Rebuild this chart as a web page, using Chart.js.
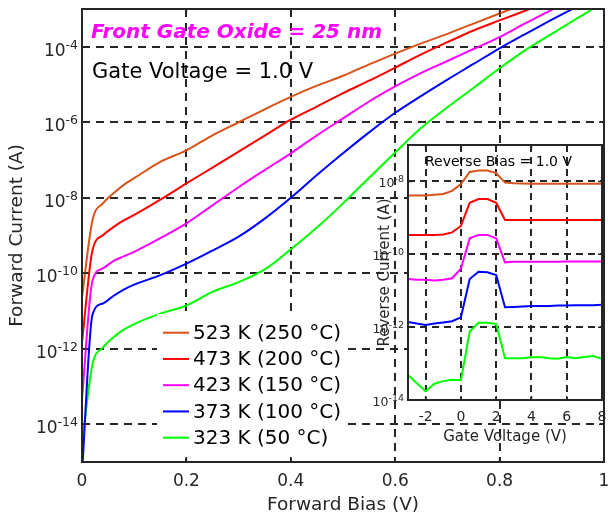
<!DOCTYPE html>
<html>
<head>
<meta charset="utf-8">
<script src="https://cdn.jsdelivr.net/npm/chart.js@4.4.1/dist/chart.umd.min.js"></script>
<style>
  html, body { margin: 0; padding: 0; background: #fff; }
  #wrap { position: relative; width: 608px; height: 516px; }
  #wrap canvas { position: absolute; left: 0; top: 0; }
</style>
</head>
<body>
<div id="wrap">
  <canvas id="main" width="608" height="516"></canvas>
  <canvas id="inset" width="608" height="516"></canvas>
</div>
<script>
// forward bias sweep (V) shared by the five main curves
var biasV = [0, 0.02, 0.04, 0.06, 0.08, 0.1, 0.15, 0.2, 0.25, 0.3, 0.35, 0.4,
             0.45, 0.5, 0.55, 0.6, 0.65, 0.7, 0.75, 0.8, 0.85, 0.9, 0.95, 1.0];

// forward current (A); curves leave the top at 1e-3
var fwd523 = [2.34e-11, 2.5e-9, 7.1e-9, 1.3e-8, 2.2e-8, 3.3e-8, 8.9e-8, 1.8e-7, 4.5e-7, 1.0e-6, 2.2e-6,
              4.7e-6, 9.3e-6, 1.7e-5, 3.4e-5, 6.6e-5, 1.23e-4, 2.2e-4, 4.1e-4, 7.6e-4, 1.4e-3];
var fwd473 = [1.5e-12, 4.0e-10, 1.02e-9, 1.66e-9, 2.5e-9, 3.5e-9, 8.9e-9, 2.4e-8, 6.3e-8, 1.66e-7, 4.4e-7,
              1.17e-6, 2.6e-6, 5.9e-6, 1.26e-5, 2.8e-5, 6.3e-5, 1.32e-4, 2.7e-4, 5.0e-4, 9.1e-4, 1.66e-3];
var fwd423 = [4.8e-14, 6.3e-11, 1.35e-10, 2.1e-10, 2.8e-10, 3.7e-10, 8.5e-10, 2.1e-9, 6.3e-9, 1.9e-8, 5.4e-8,
              1.5e-7, 4.5e-7, 1.26e-6, 3.55e-6, 8.9e-6, 2.04e-5, 4.2e-5, 8.7e-5, 1.8e-4, 4.2e-4, 9.5e-4, 2.0e-3];
var fwd373 = [5.0e-16, 7.9e-12, 1.58e-11, 2.5e-11, 3.7e-11, 5.0e-11, 8.9e-11, 1.8e-10, 4.0e-10, 9.3e-10, 2.8e-9,
              1.0e-8, 4.0e-8, 1.51e-7, 5.4e-7, 1.78e-6, 5.0e-6, 1.35e-5, 3.5e-5, 9.1e-5, 2.2e-4, 5.2e-4, 1.2e-3];
var fwd323 = [3.1e-15, 3.8e-13, 1.07e-12, 2.0e-12, 3.2e-12, 4.5e-12, 8.5e-12, 1.4e-11, 3.2e-11, 5.8e-11, 1.26e-10,
              4.3e-10, 1.62e-9, 7.1e-9, 3.4e-8, 1.58e-7, 7.1e-7, 2.5e-6, 8.1e-6, 2.7e-5, 8.3e-5, 2.2e-4, 5.8e-4, 1.5e-3];

// inset: gate voltage sweep (V) and reverse current (A)
var gateV = [-3, -2.5, -2, -1.5, -1, -0.5, 0, 0.5, 1, 1.5, 2, 2.5, 3, 3.5, 4, 4.5, 5, 5.5, 6, 6.5, 7, 7.5, 8];
var rev523 = [4.1e-9, 4.1e-9, 4.1e-9, 4.3e-9, 4.5e-9, 5.5e-9, 8.5e-9, 1.82e-8, 2.0e-8, 2.0e-8, 1.7e-8, 9.3e-9,
              8.9e-9, 8.8e-9, 8.7e-9, 8.7e-9, 8.7e-9, 8.7e-9, 8.7e-9, 8.6e-9, 8.6e-9, 8.6e-9, 8.6e-9];
var rev473 = [3.4e-10, 3.4e-10, 3.4e-10, 3.4e-10, 3.5e-10, 4.0e-10, 6.0e-10, 2.6e-9, 3.3e-9, 3.3e-9, 2.6e-9, 8.7e-10,
              8.7e-10, 8.7e-10, 8.7e-10, 8.7e-10, 8.8e-10, 8.8e-10, 8.8e-10, 8.8e-10, 8.8e-10, 8.8e-10, 8.8e-10];
var rev423 = [2.1e-11, 2.0e-11, 2.0e-11, 1.9e-11, 2.0e-11, 2.2e-11, 4.0e-11, 2.75e-10, 3.4e-10, 3.4e-10, 2.75e-10, 6.0e-11,
              6.2e-11, 6.2e-11, 6.2e-11, 6.2e-11, 6.2e-11, 6.2e-11, 6.3e-11, 6.3e-11, 6.3e-11, 6.3e-11, 6.3e-11];
var rev373 = [1.38e-12, 1.26e-12, 1.15e-12, 1.26e-12, 1.35e-12, 1.45e-12, 1.86e-12, 2.1e-11, 3.3e-11, 3.2e-11, 2.7e-11, 3.5e-12,
              3.6e-12, 3.7e-12, 3.8e-12, 3.8e-12, 3.8e-12, 3.9e-12, 3.9e-12, 4.0e-12, 4.0e-12, 4.0e-12, 4.1e-12];
var rev323 = [4.9e-14, 2.9e-14, 1.74e-14, 2.8e-14, 3.3e-14, 3.6e-14, 3.5e-14, 7.6e-13, 1.32e-12, 1.32e-12, 1.23e-12, 1.41e-13,
              1.41e-13, 1.41e-13, 1.48e-13, 1.51e-13, 1.41e-13, 1.35e-13, 1.51e-13, 1.41e-13, 1.51e-13, 1.62e-13, 1.35e-13];

var tempLabels = ['523 K (250 °C)', '473 K (200 °C)', '423 K (150 °C)', '373 K (100 °C)', '323 K (50 °C)'];
var tempColors = ['#d95319', '#ff0000', '#ff00ff', '#0000ff', '#00ff00'];

var biasTicks = [0, 0.2, 0.4, 0.6, 0.8, 1];
var fwdTicks = [1e-14, 1e-12, 1e-10, 1e-8, 1e-6, 1e-4];
var gateTicks = [-2, 0, 2, 4, 6, 8];
var revTicks = [1e-14, 1e-12, 1e-10, 1e-8];

var FONT = '"DejaVu Sans", sans-serif';
var INK = '#262626';

function series(xs, ys) {
    return ys.map(function (y, i) { return {x: xs[i], y: y}; });
}

function setTicks(list) {
    return function (scale) {
        scale.ticks = list.map(function (v) { return {value: v}; });
    };
}

// "10" with a raised exponent, right aligned at xRight
function powerLabel(ctx, exp, xRight, yGrid, baseSize, expSize, dyBase, dyExp) {
    ctx.textAlign = 'left';
    ctx.textBaseline = 'alphabetic';
    ctx.font = expSize + 'px ' + FONT;
    var we = ctx.measureText(exp).width;
    ctx.fillText(exp, xRight - we, yGrid + dyExp);
    ctx.font = baseSize + 'px ' + FONT;
    var wb = ctx.measureText('10').width;
    ctx.fillText('10', xRight - we - wb, yGrid + dyBase);
}

function boxAndTicks(chart, len) {
    var ctx = chart.ctx, a = chart.chartArea;
    var sx = chart.scales.x, sy = chart.scales.y;
    ctx.strokeStyle = INK;
    ctx.lineWidth = 1.5;
    ctx.beginPath();
    sx.ticks.forEach(function (t) {
        var px = sx.getPixelForValue(t.value);
        ctx.moveTo(px, a.bottom); ctx.lineTo(px, a.bottom - len);
        ctx.moveTo(px, a.top); ctx.lineTo(px, a.top + len);
    });
    sy.ticks.forEach(function (t) {
        var py = sy.getPixelForValue(t.value);
        ctx.moveTo(a.left, py); ctx.lineTo(a.left + len, py);
        ctx.moveTo(a.right, py); ctx.lineTo(a.right - len, py);
    });
    ctx.stroke();
    ctx.lineWidth = 2;
    ctx.strokeRect(a.left, a.top, a.right - a.left, a.bottom - a.top);
}

var mainDecor = {
    id: 'mainDecor',
    afterDraw: function (chart) {
        var ctx = chart.ctx, sy = chart.scales.y;
        ctx.save();

        // legend sits on a white patch that hides the grid
        ctx.fillStyle = '#fff';
        ctx.fillRect(157, 314, 187, 144);

        boxAndTicks(chart, 5);

        ctx.fillStyle = INK;
        sy.ticks.forEach(function (t) {
            var e = Math.round(Math.log10(t.value));
            powerLabel(ctx, String(e), 78, sy.getPixelForValue(t.value), 17, 12.5, 8.8, 2.2);
        });

        tempLabels.forEach(function (lab, i) {
            var y = 332.7 + i * 26.25;
            ctx.strokeStyle = tempColors[i];
            ctx.lineWidth = 2;
            ctx.beginPath();
            ctx.moveTo(163, y); ctx.lineTo(189, y);
            ctx.stroke();
            ctx.fillStyle = '#000';
            ctx.font = '20px ' + FONT;
            ctx.textAlign = 'left';
            ctx.textBaseline = 'middle';
            ctx.fillText(lab, 193, y + 1);
        });

        ctx.textBaseline = 'alphabetic';
        ctx.font = 'italic bold 20px ' + FONT;
        ctx.fillStyle = '#ff00ff';
        ctx.fillText('Front Gate Oxide = 25 nm', 91, 38);
        ctx.font = '21px ' + FONT;
        ctx.fillStyle = '#000';
        ctx.fillText('Gate Voltage = 1.0 V', 92, 78);
        ctx.restore();
    }
};

var insetDecor = {
    id: 'insetDecor',
    beforeDraw: function (chart) {
        var a = chart.chartArea, ctx = chart.ctx;
        ctx.save();
        ctx.fillStyle = '#fff';
        ctx.fillRect(a.left, a.top, a.right - a.left, a.bottom - a.top);
        ctx.restore();
    },
    afterDraw: function (chart) {
        var ctx = chart.ctx, sy = chart.scales.y;
        ctx.save();
        boxAndTicks(chart, 4);
        ctx.fillStyle = INK;
        sy.ticks.forEach(function (t) {
            var e = Math.round(Math.log10(t.value));
            powerLabel(ctx, String(e), 404, sy.getPixelForValue(t.value), 12.5, 9.5, 6, 1);
        });
        ctx.fillStyle = '#000';
        ctx.font = '14px ' + FONT;
        ctx.textAlign = 'left';
        ctx.textBaseline = 'alphabetic';
        ctx.fillText('Reverse Bias = 1.0 V', 425, 166);
        ctx.restore();
    }
};

function lineSets(xs, all, smooth) {
    return all.map(function (ys, i) {
        return {
            label: tempLabels[i],
            data: series(xs, ys),
            borderColor: tempColors[i],
            backgroundColor: tempColors[i],
            borderWidth: 2,
            pointRadius: 0,
            tension: smooth ? 0.4 : 0,
            cubicInterpolationMode: smooth ? 'monotone' : 'default',
            fill: false
        };
    });
}

new Chart(document.getElementById('main'), {
    type: 'line',
    data: { datasets: lineSets(biasV, [fwd523, fwd473, fwd423, fwd373, fwd323], true) },
    options: {
        responsive: false,
        animation: false,
        devicePixelRatio: 1,
        layout: { padding: { left: 0, top: 9, right: 4, bottom: 0 } },
        plugins: { legend: { display: false }, tooltip: { enabled: false } },
        scales: {
            x: {
                type: 'linear', min: 0, max: 1,
                afterBuildTicks: setTicks(biasTicks),
                afterFit: function (s) { s.height = 54; s.paddingLeft = 0; s.paddingRight = 0; },
                grid: { color: INK, lineWidth: 2, drawTicks: false },
                border: { display: false, dash: [8, 6] },
                ticks: {
                    color: INK, padding: 9, maxRotation: 0,
                    font: { family: FONT, size: 17 },
                    callback: function (v) { return String(Math.round(v * 10) / 10); }
                },
                title: {
                    display: true, text: 'Forward Bias (V)', color: INK,
                    font: { family: FONT, size: 18.5 }, padding: { top: 0, bottom: 0 }
                }
            },
            y: {
                type: 'logarithmic', min: 1e-15, max: 1e-3,
                afterBuildTicks: setTicks(fwdTicks),
                afterFit: function (s) { s.width = 82; s.paddingTop = 0; s.paddingBottom = 0; },
                grid: { color: INK, lineWidth: 2, drawTicks: false },
                border: { display: false, dash: [8, 6] },
                ticks: { display: false },
                title: {
                    display: true, text: 'Forward Current (A)', color: INK,
                    font: { family: FONT, size: 18.5 }, padding: { top: 6, bottom: 0 }
                }
            }
        }
    },
    plugins: [mainDecor]
});

new Chart(document.getElementById('inset'), {
    type: 'line',
    data: { datasets: lineSets(gateV, [rev523, rev473, rev423, rev373, rev323], false) },
    options: {
        responsive: false,
        animation: false,
        devicePixelRatio: 1,
        layout: { padding: { left: 370, top: 145, right: 6, bottom: 68 } },
        plugins: { legend: { display: false }, tooltip: { enabled: false } },
        scales: {
            x: {
                type: 'linear', min: -3, max: 8,
                afterBuildTicks: setTicks(gateTicks),
                afterFit: function (s) { s.height = 48; s.paddingLeft = 0; s.paddingRight = 0; },
                grid: { color: INK, lineWidth: 2, drawTicks: false },
                border: { display: false, dash: [7, 5] },
                ticks: {
                    color: INK, padding: 9, maxRotation: 0,
                    font: { family: FONT, size: 14 },
                    callback: function (v) { return String(v); }
                },
                title: {
                    display: true, text: 'Gate Voltage (V)', color: INK,
                    font: { family: FONT, size: 15 }, padding: { top: 0, bottom: 2 }
                }
            },
            y: {
                type: 'logarithmic', min: 1e-14, max: 1e-7,
                afterBuildTicks: setTicks(revTicks),
                afterFit: function (s) { s.width = 38; s.paddingTop = 0; s.paddingBottom = 0; },
                grid: { color: INK, lineWidth: 2, drawTicks: false },
                border: { display: false, dash: [7, 5] },
                ticks: { display: false },
                title: {
                    display: true, text: 'Reverse Current (A)', color: INK,
                    font: { family: FONT, size: 15 }, padding: { top: 6, bottom: 0 }
                }
            }
        }
    },
    plugins: [insetDecor]
});
</script>
</body>
</html>
